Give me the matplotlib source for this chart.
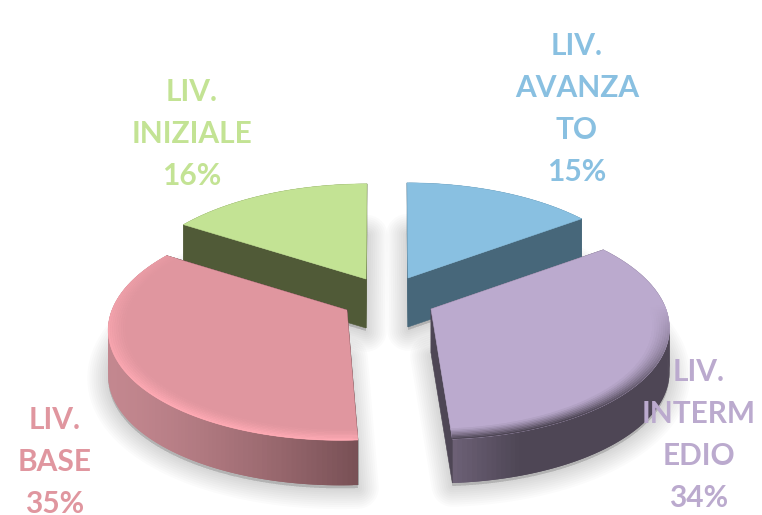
import numpy as np
import matplotlib
matplotlib.use("Agg")
import matplotlib.pyplot as plt

labels = ["LIV.\nAVANZA\nTO\n15%", "LIV.\nINTERM\nEDIO\n34%", "LIV.\nBASE\n35%", "LIV.\nINIZIALE\n16%"]
values = [15, 34, 35, 16]
colors = ["#89c0e1", "#bbaace", "#e0969f", "#c3e394"]
side_colors = ["#47677a", "#4e4655", "#000000", "#505a37"]

# where each apex sits on the canvas, the label centres
apex = [(408, 278), (431, 309), (347, 310), (366, 279)]
label_pos = [(577, 109), (699, 435), (55, 462), (192, 134)]

RX = 235.0
RY = 110.0
K = 0.156
THICK = [49, 44, 45, 49]
SHEAR = [0.01, 0.03, -0.05, -0.01]


def project(r, theta, i):
    u = r * np.sin(theta)
    v = r * np.cos(theta)
    w = 1 + K * v
    dy = -RY * v / w
    return RX * u / w + SHEAR[i] * dy, dy


def mix(a, b, t):
    a = np.array(matplotlib.colors.to_rgb(a))
    b = np.array(matplotlib.colors.to_rgb(b))
    return tuple(a + (b - a) * t)


def rim_color(i, x):
    if i == 0:
        return "#47677a"
    if i == 3:
        return "#505a37"
    if i == 1:
        return mix("#6e6278", "#4e4655", min(1, max(0, (x - 452) / 70)))
    return mix("#c3878f", "#785055", max(0, (x - 110) / 250) ** 1.4)


def bevel_strength(i, theta):
    if i == 1:
        return np.clip(0.05 - 1.1 * np.cos(theta), 0, 1)
    if i == 2:
        return np.clip(0.55 - 0.6 * np.cos(theta), 0, 1)
    return 0


def draw_slice(ax, i, start, end):
    cx, cy = apex[i]
    t = THICK[i]
    th = np.linspace(start, end, 120)
    dx, dy = project(1.0, th, i)
    x = cx + dx
    y = cy + dy
    px = np.r_[cx, x]
    py = np.r_[cy, y]

    # soft shadow under the bottom face
    for lw in np.arange(30, 1, -3):
        ax.fill(px, py + t + 3, fc="#000000", ec="#000000", alpha=0.014, lw=lw, joinstyle="round", zorder=1 + i * 0.01)

    base = 2 + {0: 0, 3: 1, 2: 2, 1: 3}[i] * 2

    # rim, each strip overlaps the next so no seams show
    for k in range(len(th) - 1):
        n = min(k + 2, len(th) - 1)
        qx = [x[k], x[n], x[n], x[k]]
        qy = [y[k], y[n], y[n] + t, y[k] + t]
        ax.fill(qx, qy, fc=rim_color(i, x[k]), lw=0, zorder=base)

    # cut faces
    for a in (0, -1):
        ax.fill([cx, x[a], x[a], cx], [cy, y[a], y[a] + t, cy + t], fc=side_colors[i], ec=side_colors[i], lw=0.4,
                zorder=base + 0.2 if side_colors[i] != "#000000" else base - 1)

    # top
    ax.fill(px, py, fc=colors[i], ec=colors[i], lw=0.4, zorder=base + 0.5)

    # rounded edge of the top
    if i in (1, 2):
        edge = "#4e4655" if i == 1 else "#ffaab4"
        radii = np.linspace(1.0, 0.93, 9)
        for j in range(len(radii) - 1):
            x0, y0 = project(radii[j], th, i)
            x1, y1 = project(radii[j + 1], th, i)
            for k in range(len(th) - 1):
                s = bevel_strength(i, th[k]) * (1 - j / (len(radii) - 1)) ** 1.2
                if s <= 0:
                    continue
                n = min(k + 2, len(th) - 1)
                ax.fill([cx + x0[k], cx + x0[n], cx + x1[n], cx + x1[k]],
                        [cy + y0[k], cy + y0[n], cy + y1[n], cy + y1[k]],
                        fc=mix(colors[i], edge, s), lw=0, zorder=base + 0.6)


fig = plt.figure(figsize=(7.62, 5.15), dpi=100)
ax = fig.add_axes([0, 0, 1, 1])
ax.set_xlim(0, 762)
ax.set_ylim(515, 0)
ax.axis("off")

angles = np.r_[0, np.cumsum(values)] / sum(values) * 2 * np.pi
for i in range(len(values)):
    draw_slice(ax, i, angles[i], angles[i + 1])

for i in range(len(values)):
    ax.text(label_pos[i][0], label_pos[i][1], labels[i], color=colors[i], ha="center", va="center", ma="center",
            fontsize=21.5, fontweight="bold", family="Lato", linespacing=1.6, zorder=20)

fig.savefig("out.png", dpi=100)
